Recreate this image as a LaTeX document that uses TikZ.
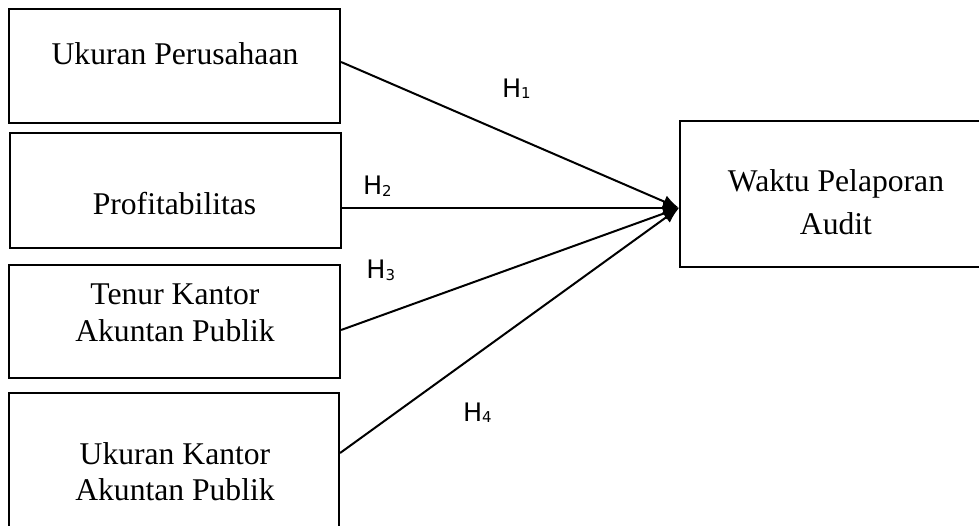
\documentclass[tikz,border=0pt]{standalone}
\usepackage{fontspec}
\setmainfont{Liberation Serif}
\newfontfamily\hypfont{DejaVu Sans}
\usepackage{tikz}
\tikzset{
font={\fontsize{18pt}{21pt}\selectfont}}
\usetikzlibrary{arrows.meta}
\newcommand{\hyp}[1]{{\hypfont\fontsize{14.5pt}{14.5pt}\selectfont H\raisebox{-0.6pt}{\fontsize{8.5pt}{8.5pt}\selectfont #1}}}

\begin{document}
\begin{tikzpicture}[x=0.02cm, y=-0.02cm]
    % Page frame
    \clip (0, 0) rectangle (979, 526);

    % Ukuran Perusahaan box
    \node [draw, line width=0.45mm, minimum width=6.62cm, minimum height=2.28cm] (perusahaan) at (174.5, 66) {};
    % Profitabilitas box
    \node [draw, line width=0.45mm, minimum width=6.62cm, minimum height=2.30cm] (profit) at (175.5, 190.5) {};
    % Tenur KAP box
    \node [draw, line width=0.45mm, minimum width=6.62cm, minimum height=2.26cm] (tenur) at (174.5, 321.5) {};
    % Ukuran KAP box
    \node [draw, line width=0.45mm, minimum width=6.60cm, minimum height=2.90cm] (ukurankap) at (174, 465.5) {};
    % Waktu Pelaporan Audit box
    \node [draw, line width=0.45mm, minimum width=6.20cm, minimum height=2.92cm] (waktu) at (835, 194) {};

    % box labels
    \node [anchor=base] (tperusahaan) at (175, 65) {Ukuran Perusahaan};
    \node [anchor=base] (tprofit) at (174.5, 215) {Profitabilitas};
    \node [anchor=base, align=center] (ttenur) at (175, 341.7) {Tenur Kantor\\Akuntan Publik};
    \node [anchor=base, align=center] (tukurankap) at (175, 500) {Ukuran Kantor\\[-1pt]Akuntan Publik};
    \node [anchor=base, align=center] (twaktu) at (836, 235) {Waktu Pelaporan\\[3.5pt]Audit};

    % Common arrow end
    \coordinate (hit) at (679, 208);

    % H1
    \draw [line width=0.4mm, arrows={-Latex[length=3.2mm, width=2.6mm]}] (perusahaan.east |- 0,62) -- (hit);
    % H2
    \draw [line width=0.4mm, arrows={-Latex[length=3.2mm, width=2.6mm]}] (profit.east |- 0,208) -- (hit);
    % H3
    \draw [line width=0.4mm, arrows={-Latex[length=3.2mm, width=2.6mm]}] (tenur.east |- 0,330) -- (hit);
    % H4
    \draw [line width=0.4mm, arrows={-Latex[length=3.2mm, width=2.6mm]}] (ukurankap.east |- 0,453) -- (hit);

    % Hypothesis labels
    \node [anchor=base west, inner sep=0] (h1) at (501.7, 97.7) {\hyp{1}};
    \node [anchor=base west, inner sep=0] (h2) at (362.7, 195) {\hyp{2}};
    \node [anchor=base west, inner sep=0] (h3) at (366, 279) {\hyp{3}};
    \node [anchor=base west, inner sep=0] (h4) at (462.7, 421) {\hyp{4}};
\end{tikzpicture}
\end{document}
